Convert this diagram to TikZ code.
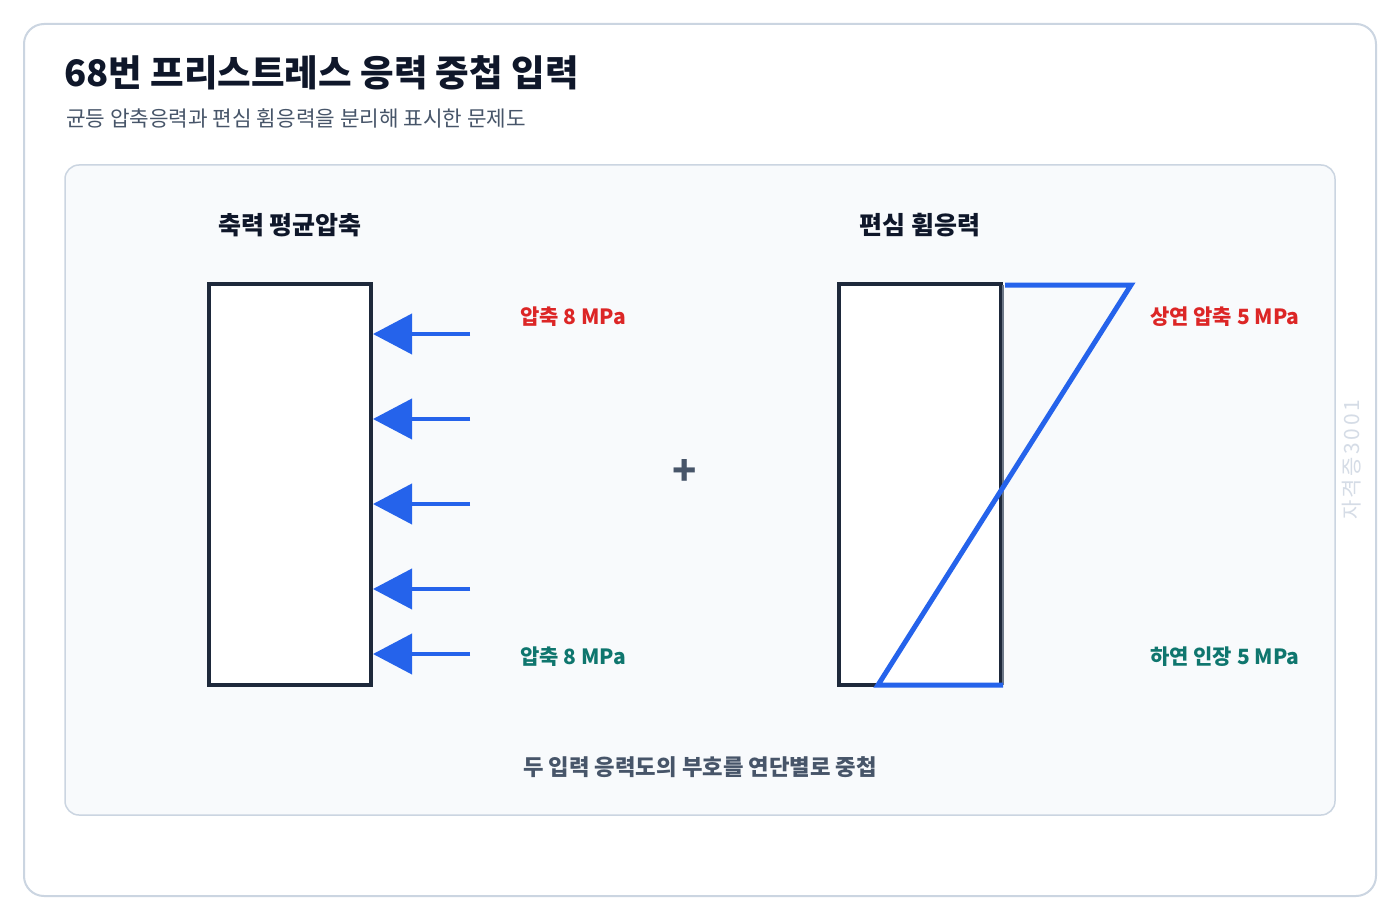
\documentclass[tikz,border=0pt]{standalone}
\usepackage{fontspec}
\setmainfont{Noto Sans CJK KR}
\usetikzlibrary{arrows.meta}
\definecolor{border}{HTML}{CBD5E1}
\definecolor{panel}{HTML}{F8FAFC}
\definecolor{ink}{HTML}{0F172A}
\definecolor{sub}{HTML}{475569}
\definecolor{blu}{HTML}{2563EB}
\definecolor{redc}{HTML}{DC2626}
\definecolor{teal}{HTML}{0F766E}
\definecolor{wm}{HTML}{D5DCE6}
\definecolor{frame}{HTML}{1E293B}
\tikzset{
  section/.style={font=\fontsize{25}{29}\selectfont\bfseries, text=ink},
  member/.style={draw=frame, line width=4pt, fill=white, minimum width=162pt, minimum height=401pt, inner sep=0pt},
  force/.style={draw=blu, line width=4pt, -{Triangle[length=39pt,width=40pt]}},
  lblred/.style={font=\fontsize{21}{25}\selectfont\bfseries, text=redc, anchor=west, inner sep=0pt},
  lblteal/.style={font=\fontsize{21}{25}\selectfont\bfseries, text=teal, anchor=west, inner sep=0pt},
}
\begin{document}
\begin{tikzpicture}[x=1pt,y=-1pt]
\useasboundingbox (0,0) rectangle (1400,920);
\fill[white] (0,0) rectangle (1400,920);
\draw[border, line width=2pt, fill=white, rounded corners=20pt] (24,24) rectangle (1376,896);
\node[anchor=base west, font=\fontsize{36.5}{42}\selectfont\bfseries, text=ink, inner sep=0pt] (title) at (64,87) {68번 프리스트레스 응력 중첩 입력};
\node[anchor=base west, font=\fontsize{21.3}{25}\selectfont, text=sub, inner sep=0pt] (subtitle) at (66,127) {균등 압축응력과 편심 휨응력을 분리해 표시한 문제도};
\draw[border, line width=1.5pt, fill=panel, rounded corners=14pt] (65,165) rectangle (1335,815);
\node[section] (h1) at (290,225) {축력 평균압축};
\node[section] (h2) at (920,225) {편심 휨응력};
\node[member] (L) at (290,484.5) {};
\foreach \i/\y in {1/334,2/419,3/504,4/589,5/654}{
  \coordinate (s\i) at (470,\y);
  \draw[force] (s\i) -- (L.east |- s\i);
}
\node[lblred] (lt) at (520,317) {압축 8 MPa};
\node[lblteal] (lb) at (520,657) {압축 8 MPa};
\node[font=\fontsize{40}{44}\selectfont\bfseries, text=sub] (plus) at (685,472) {+};
\node[member] (R) at (920,484.5) {};
\coordinate (b1) at (1003,285);
\coordinate (b2) at (1003,685);
\draw[color=sub!80, line width=2pt] (b1) -- (b2);
\coordinate (p1) at (1005,285);
\coordinate (p2) at (1131,285);
\coordinate (p3) at (878,685);
\coordinate (p4) at (1003,685);
\draw[blu, line width=5pt, line join=miter] (p1) -- (p2) -- (p3) -- (p4);
\node[lblred] (rt) at (1150,317) {상연 압축 5 MPa};
\node[lblteal] (rb) at (1150,657) {하연 인장 5 MPa};
\node[font=\fontsize{22.3}{26}\selectfont\bfseries, text=sub] (cap) at (700,767) {두 입력 응력도의 부호를 연단별로 중첩};
\node[rotate=90, font=\fontsize{21}{24}\selectfont\addfontfeature{LetterSpace=12}, text=wm] (wmk) at (1352,460) {자격증3001};
\end{tikzpicture}
\end{document}
